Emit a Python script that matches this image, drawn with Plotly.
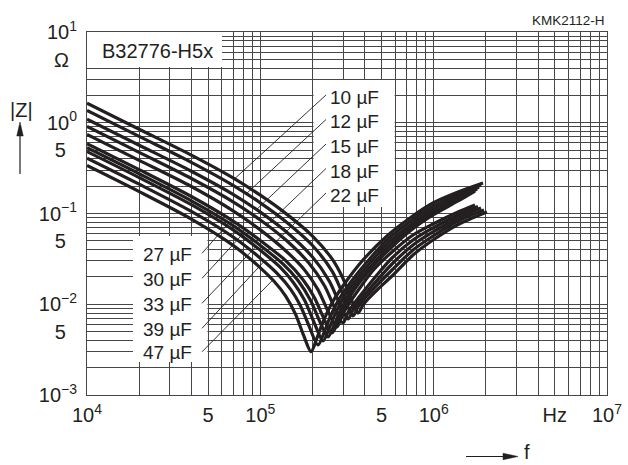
import numpy as np
import plotly.graph_objects as go

# ---------------- data ----------------
labels = ["10 µF", "12 µF", "15 µF", "18 µF", "22 µF",
          "27 µF", "30 µF", "33 µF", "39 µF", "47 µF"]

f_10uF = [1e4, 2e4, 4e4, 7e4, 1e5, 1.4e5, 2e5, 2.6e5, 3e5, 3.3e5, 3.66e5, 3.912e5, 4.237e5, 4.775e5, 5.75e5, 7.603e5, 9.912e5, 1.382e6, 2.031e6]
z_10uF = [1.638, 0.849, 0.4403, 0.2454, 0.1591, 0.1003, 0.0564, 0.0314, 0.0192, 0.0121, 0.0080, 0.00981, 0.01172, 0.01473, 0.02048, 0.0349, 0.05106, 0.07568, 0.1039]

f_12uF = [1e4, 2e4, 4e4, 7e4, 1e5, 1.4e5, 2e5, 2.6e5, 3e5, 3.425e5, 3.665e5, 3.975e5, 4.485e5, 5.75e5, 7.603e5, 9.912e5, 1.382e6, 1.952e6]
z_12uF = [1.365, 0.7072, 0.3664, 0.2034, 0.1311, 0.0817, 0.0444, 0.0230, 0.0128, 0.00743, 0.00933, 0.01143, 0.01473, 0.02385, 0.03962, 0.05652, 0.08269, 0.1093]

f_15uF = [1e4, 2e4, 4e4, 7e4, 1e5, 1.4e5, 2e5, 2.5e5, 2.8e5, 3.205e5, 3.434e5, 3.724e5, 4.215e5, 5.75e5, 7.603e5, 9.912e5, 1.382e6, 1.876e6]
z_15uF = [1.092, 0.5654, 0.2924, 0.1617, 0.1035, 0.0636, 0.0331, 0.0180, 0.0113, 0.00688, 0.00875, 0.01086, 0.01436, 0.02777, 0.04497, 0.06255, 0.08923, 0.1150]

f_18uF = [1e4, 2e4, 4e4, 7e4, 1e5, 1.4e5, 1.9e5, 2.35e5, 2.65e5, 2.999e5, 3.214e5, 3.494e5, 3.959e5, 4.813e5, 5.75e5, 7.603e5, 9.912e5, 1.382e6, 1.803e6]
z_18uF = [0.9097, 0.4709, 0.2432, 0.1338, 0.0849, 0.0513, 0.0286, 0.0159, 0.0096, 0.00622, 0.00822, 0.01032, 0.0140, 0.0221, 0.03234, 0.05106, 0.06923, 0.09628, 0.1195]

f_22uF = [1e4, 2e4, 4e4, 7e4, 1e5, 1.4e5, 1.8e5, 2.15e5, 2.45e5, 2.769e5, 2.975e5, 3.239e5, 3.68e5, 4.491e5, 5.75e5, 7.603e5, 9.912e5, 1.382e6, 1.732e6]
z_22uF = [0.7442, 0.3850, 0.1984, 0.1064, 0.0660, 0.0389, 0.0239, 0.0145, 0.0085, 0.00562, 0.00762, 0.01007, 0.01436, 0.02385, 0.03766, 0.05796, 0.07662, 0.1039, 0.1241]

f_27uF = [1e4, 2e4, 4e4, 7e4, 1e5, 1.4e5, 1.75e5, 2.05e5, 2.3e5, 2.591e5, 2.806e5, 3.038e5, 3.425e5, 4.07e5, 5.17e5, 7.302e5, 9.912e5, 1.382e6, 1.732e6]
z_27uF = [0.5886, 0.3047, 0.1540, 0.0820, 0.0504, 0.0303, 0.0190, 0.0119, 0.0073, 0.00482, 0.00641, 0.00907, 0.01375, 0.02128, 0.03516, 0.06416, 0.09628, 0.1374, 0.1770]

f_30uF = [1e4, 2e4, 4e4, 7e4, 1e5, 1.35e5, 1.65e5, 1.95e5, 2.2e5, 2.457e5, 2.661e5, 2.882e5, 3.248e5, 3.859e5, 4.902e5, 5.381e5, 7.302e5, 9.912e5, 1.382e6, 1.778e6]
z_30uF = [0.5296, 0.2740, 0.1381, 0.0732, 0.0445, 0.0278, 0.0183, 0.0110, 0.0065, 0.00436, 0.00585, 0.00838, 0.01287, 0.02023, 0.03402, 0.04169, 0.06923, 0.1026, 0.1445, 0.1862]

f_33uF = [1e4, 2e4, 4e4, 7e4, 1e5, 1.3e5, 1.55e5, 1.8e5, 2.05e5, 2.299e5, 2.489e5, 2.696e5, 3.038e5, 3.612e5, 4.587e5, 5.381e5, 7.302e5, 9.912e5, 1.382e6, 1.826e6]
z_33uF = [0.4814, 0.2489, 0.1251, 0.0656, 0.0393, 0.0256, 0.0174, 0.0111, 0.0062, 0.00394, 0.00534, 0.00775, 0.01208, 0.01927, 0.03292, 0.04613, 0.07469, 0.1107, 0.1520, 0.1959]

f_39uF = [1e4, 2e4, 4e4, 7e4, 1e5, 1.25e5, 1.5e5, 1.7e5, 1.9e5, 2.151e5, 2.33e5, 2.522e5, 2.844e5, 3.38e5, 4.293e5, 5.381e5, 7.302e5, 9.912e5, 1.382e6, 1.876e6]
z_39uF = [0.4072, 0.2104, 0.1054, 0.0547, 0.0322, 0.0219, 0.0145, 0.0097, 0.0059, 0.00356, 0.00487, 0.00716, 0.01131, 0.01832, 0.03193, 0.05106, 0.08166, 0.1195, 0.1620, 0.2061]

f_47uF = [1e4, 2e4, 4e4, 7e4, 1e5, 1.2e5, 1.4e5, 1.6e5, 1.78e5, 1.96e5, 2.123e5, 2.299e5, 2.591e5, 3.08e5, 3.912e5, 5.381e5, 7.302e5, 9.912e5, 1.382e6, 1.926e6]
z_47uF = [0.3378, 0.1743, 0.0868, 0.0443, 0.0252, 0.0179, 0.0123, 0.0077, 0.0045, 0.0030, 0.00425, 0.00638, 0.01032, 0.01715, 0.03073, 0.05651, 0.08923, 0.1305, 0.1726, 0.2169]

series_f = [f_10uF, f_12uF, f_15uF, f_18uF, f_22uF, f_27uF, f_30uF, f_33uF, f_39uF, f_47uF]
series_z = [z_10uF, z_12uF, z_15uF, z_18uF, z_22uF, z_27uF, z_30uF, z_33uF, z_39uF, z_47uF]

# frequency at which each label's leader meets its curve
leader_f = [7.1e4, 8.3e4, 9.5e4, 1.09e5, 1.22e5,
            6.8e4, 8.0e4, 9.4e4, 1.05e5, 1.18e5]

x_tick_vals = [1e4, 5e4, 1e5, 5e5, 1e6, 5e6, 1e7]
x_tick_text = ["10<sup>4</sup>", "5", "10<sup>5</sup>", "5", "10<sup>6</sup>", "Hz", "10<sup>7</sup>"]
y_tick_vals = [1e-3, 5e-3, 1e-2, 5e-2, 1e-1, 5e-1, 1e0, 1e1]
y_tick_text = ["10<sup>−3</sup>", "5\u00a0\u00a0", "10<sup>−2</sup>", "5\u00a0\u00a0",
               "10<sup>−1</sup>", "5\u00a0\u00a0", "10<sup>0</sup>", "10<sup>1</sup>"]

# ---------------- layout geometry ----------------
W, H = 628, 465
PL, PR, PT, PB = 87, 607, 32, 395
XR = (4.0, 7.0)
YR = (-3.0, 1.0)
INK = "#231f20"
GRID = "#474747"
FONT = "Liberation Sans, Arial, Helvetica, sans-serif"


def px_data(xp, yp):
    lx = XR[0] + (xp - PL) / (PR - PL) * (XR[1] - XR[0])
    ly = YR[1] - (yp - PT) / (PB - PT) * (YR[1] - YR[0])
    return 10 ** lx, 10 ** ly


def px_paper(xp, yp):
    return (xp - PL) / (PR - PL), (PB - yp) / (PB - PT)


def minor_vals(lo, hi, major):
    out = []
    for d in range(lo, hi):
        for m in range(2, 10):
            v = m * 10.0 ** d
            if all(abs(np.log10(v) - np.log10(mv)) > 1e-9 for mv in major):
                out.append(v)
    return out


fig = go.Figure()

# white label boxes (cover the grid, stay under the curves)
for (x0, y0, x1, y1) in [(86, 31, 222, 67), (313.6, 80, 394.6, 207), (133, 236, 207.4, 362)]:
    fa, za = px_data(x0, y0)
    fb, zb = px_data(x1, y1)
    fig.add_trace(go.Scatter(x=[fa, fb, fb, fa, fa], y=[za, za, zb, zb, za], mode="lines",
                             fill="toself", fillcolor="white", line=dict(width=0, color="white"),
                             hoverinfo="skip", showlegend=False))

for f, z in zip(series_f, series_z):
    fig.add_trace(go.Scatter(x=f, y=z, mode="lines",
                             line=dict(color=INK, width=3.2, shape="spline", smoothing=0.8),
                             hoverinfo="skip", showlegend=False))

# label positions (pixels) - top group and bottom group
top_cy = [97.5, 122.0, 146.5, 171.0, 195.5]
bot_cy = [254.0, 279.0, 304.0, 329.0, 352.5]

annotations = []
leader_starts = []
for i in range(5):
    annotations.append(dict(x=px_paper(328, 0)[0], y=px_paper(0, top_cy[i])[1], xref="paper", yref="paper",
                            text=labels[i], showarrow=False, xanchor="left", yanchor="middle",
                            font=dict(size=19, color=INK, family=FONT)))
    leader_starts.append(px_data(326, top_cy[i] - 2.5))
for i in range(5):
    annotations.append(dict(x=px_paper(141, 0)[0], y=px_paper(0, bot_cy[i])[1], xref="paper", yref="paper",
                            text=labels[5 + i], showarrow=False, xanchor="left", yanchor="middle",
                            font=dict(size=19, color=INK, family=FONT)))
    leader_starts.append(px_data(202, bot_cy[i] - 0.7))

for i in range(10):
    f, z = series_f[i], series_z[i]
    lz = np.interp(np.log10(leader_f[i]), np.log10(f), np.log10(z))
    sx, sy = leader_starts[i]
    fig.add_trace(go.Scatter(x=[sx, leader_f[i]], y=[sy, 10 ** lz], mode="lines",
                             line=dict(color=INK, width=0.9), hoverinfo="skip", showlegend=False))

shapes = []


def arrow(x0, y0, x1, y1, head_len, head_w):
    p0 = px_paper(x0, y0)
    vx, vy = x1 - x0, y1 - y0
    n = (vx ** 2 + vy ** 2) ** 0.5
    ux, uy = vx / n, vy / n
    bx, by = x1 - ux * head_len, y1 - uy * head_len
    pb = px_paper(bx, by)
    shapes.append(dict(type="line", xref="paper", yref="paper", x0=p0[0], y0=p0[1], x1=pb[0], y1=pb[1],
                       line=dict(color=INK, width=1.2)))
    pa = px_paper(bx - uy * head_w / 2, by + ux * head_w / 2)
    pc = px_paper(bx + uy * head_w / 2, by - ux * head_w / 2)
    pt = px_paper(x1, y1)
    shapes.append(dict(type="path", xref="paper", yref="paper",
                       path=f"M {pa[0]},{pa[1]} L {pt[0]},{pt[1]} L {pc[0]},{pc[1]} Z",
                       fillcolor=INK, line=dict(color=INK, width=0.5)))


arrow(20, 174, 20, 122, 14, 6.5)
arrow(466, 456.5, 518, 456.5, 15, 6.5)


def text_px(xp, yp, s, size, xanchor="center"):
    px, py = px_paper(xp, yp)
    annotations.append(dict(x=px, y=py, xref="paper", yref="paper", text=s, showarrow=False,
                            xanchor=xanchor, yanchor="middle", font=dict(size=size, color=INK, family=FONT)))


text_px(157, 51, "B32776-H5x", 20)
text_px(61.5, 60, "Ω", 20)
text_px(21.5, 110, "|Z|", 20)
text_px(607, 20, "KMK2112-H", 13.5, xanchor="right")
text_px(527, 452, "f", 20)

axis_common = dict(type="log", showgrid=True, gridcolor=GRID, gridwidth=1, ticks="",
                   showline=True, linecolor=GRID, linewidth=1, mirror=True, zeroline=False,
                   tickfont=dict(size=20, color=INK, family=FONT), tickmode="array",
                   ticklabeloverflow="allow")

fig.update_layout(
    width=W, height=H,
    margin=dict(l=PL, r=W - PR, t=PT, b=H - PB, autoexpand=False),
    paper_bgcolor="white", plot_bgcolor="white",
    xaxis=dict(range=list(XR), tickvals=x_tick_vals, ticktext=x_tick_text, ticklabelstandoff=2,
               minor=dict(tickmode="array", tickvals=minor_vals(4, 7, x_tick_vals), showgrid=True,
                          gridcolor=GRID, gridwidth=1, ticks=""),
               **axis_common),
    yaxis=dict(range=list(YR), tickvals=y_tick_vals, ticktext=y_tick_text, ticklabelstandoff=5,
               minor=dict(tickmode="array", tickvals=minor_vals(-3, 1, y_tick_vals), showgrid=True,
                          gridcolor=GRID, gridwidth=1, ticks=""),
               **axis_common),
    shapes=shapes, annotations=annotations, showlegend=False,
)

fig.write_html("out.html", config={"displayModeBar": False},
               post_script="document.body.style.margin='0px';document.body.style.padding='0px';")
